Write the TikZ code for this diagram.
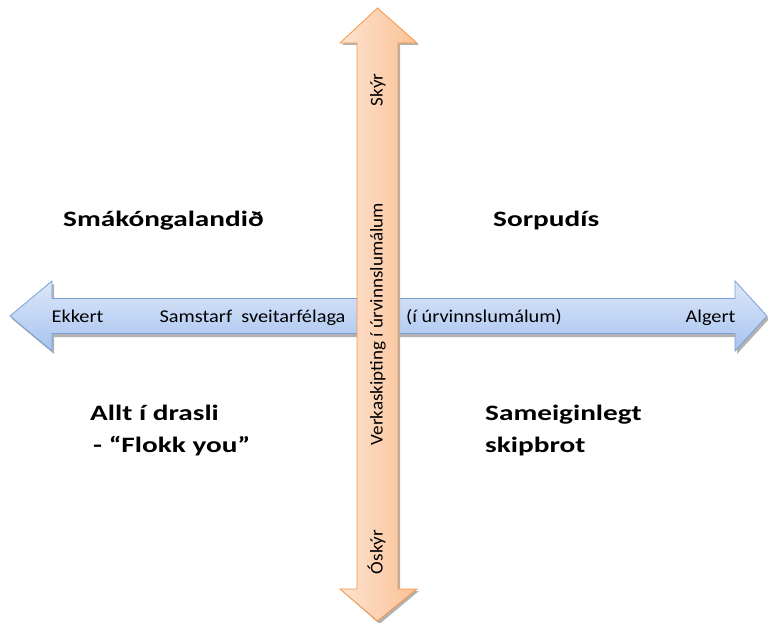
\documentclass[tikz,border=0pt]{standalone}
\usepackage{fontspec}
\setmainfont{Carlito}
\newfontfamily\titlefont[FakeStretch=1.33]{Carlito}
\newfontfamily\smallfont[FakeStretch=1.13]{Carlito}
\newfontfamily\vertfont[FakeStretch=1.06]{Carlito}
\begin{document}
\begin{tikzpicture}[x=1pt,y=-1pt,
  small/.style={font=\smallfont\fontsize{18}{20}\selectfont, inner sep=0pt, anchor=base},
  vsmall/.style={font=\vertfont\fontsize{18}{20}\selectfont, inner sep=0pt, anchor=base, rotate=90},
  title/.style={font=\titlefont\bfseries\fontsize{22}{26}\selectfont, inner sep=0pt, anchor=base west}
]
\definecolor{hblueTop}{HTML}{DCE7F9}
\definecolor{hblueBot}{HTML}{A7C3EF}
\definecolor{hblueLine}{HTML}{7B9FD6}
\definecolor{vorangeL}{HTML}{FEE3D0}
\definecolor{vorangeR}{HTML}{FAC195}
\definecolor{vorangeLine}{HTML}{F79646}
\useasboundingbox (0,0) rectangle (768,623);
% horizontal arrow shadow
\fill[black!30] (12,319) -- (54,284) -- (54,301) -- (737,301) -- (737,284) -- (769,319) -- (737,354) -- (737,337) -- (54,337) -- (54,354) -- cycle;
% horizontal double arrow
\path[draw=hblueLine, line width=0.8pt, top color=hblueTop, bottom color=hblueBot]
  (10,316) -- (52,281) -- (52,298.5) -- (735,298.5) -- (735,281) -- (767,316) -- (735,351) -- (735,333.5) -- (52,333.5) -- (52,351) -- cycle;
% vertical shadow
\fill[black!30] (342,45) -- (379.5,10) -- (419,45) -- (400,45) -- (400,591) -- (419,591) -- (379.5,624) -- (342,591) -- (359,591) -- (359,45) -- cycle;
% vertical double arrow
\path[draw=vorangeLine, line width=0.8pt, left color=vorangeL, right color=vorangeR]
  (340,43) -- (377.5,8) -- (417,43) -- (398,43) -- (398,589) -- (417,589) -- (377.5,621) -- (340,589) -- (357,589) -- (357,43) -- cycle;
% labels on horizontal arrow
\node[small] (ekkert) at (77.5,322) {Ekkert};
\node[small] (samstarf) at (252.5,322) {Samstarf\ \ sveitarfélaga};
\node[small] (urv) at (484,322) {(í úrvinnslumálum)};
\node[small] (algert) at (710.5,322) {Algert};
% labels on vertical arrow
\node[vsmall] (skyr) at (382.5,90) {Skýr};
\node[vsmall] (verk) at (382.5,324) {Verkaskipting í úrvinnslumálum};
\node[vsmall] (oskyr) at (382.5,552) {Óskýr};
% quadrant titles
\node[title] (smak) at (63,226) {Smákóngalandið};
\node[title] (sorp) at (493,226) {Sorpudís};
\node[title] (allt) at (90,420) {Allt í drasli};
\node[title] (flokk) at (93,452) {- “Flokk you”};
\node[title] (samei) at (485,420) {Sameiginlegt};
\node[title] (skip) at (485,452) {skipbrot};
\end{tikzpicture}
\end{document}
